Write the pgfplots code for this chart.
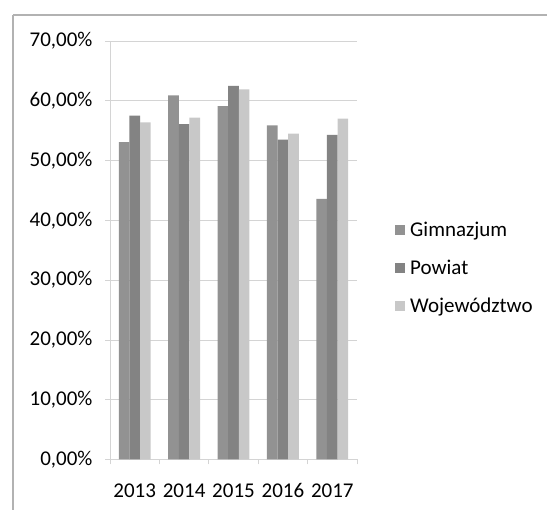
\documentclass[border=0pt]{standalone}
\usepackage{fontspec}
\setmainfont{Carlito}
\usepackage{pgfplots}
\pgfplotsset{compat=1.18}

\definecolor{gimn}{HTML}{929292}
\definecolor{pow}{HTML}{838383}
\definecolor{woj}{HTML}{C8C8C8}
\definecolor{gridc}{HTML}{D4D4D4}

\begin{document}
\begin{tikzpicture}[x=1pt,y=1pt]
\path[use as bounding box] (0,0) rectangle (547,510);
\draw[gray!60, line width=1.2pt] (13,495) -- (547,495);
\draw[gray!60, line width=1.2pt] (13,495) -- (13,0);
\begin{axis}[
    at={(110pt,50.5pt)}, anchor=south west,
    scale only axis,
    width=247pt, height=418.5pt,
    ybar, bar width=0.215,
    xmin=-0.5, xmax=4.5,
    ymin=0, ymax=70,
    ytick={0,10,...,70},
    xtick={0,1,2,3,4},
    xticklabels={2013,2014,2015,2016,2017},
    minor xtick={-0.5,0.5,1.5,2.5,3.5,4.5},
    major x tick style={draw=none},
    minor x tick style={draw=gridc, thick},
    ytick style={draw=gridc, thick},
    tick align=outside,
    major tick length=5pt, minor tick length=5pt,
    ymajorgrids, grid style={gridc, thick},
    axis x line*=bottom, axis y line*=left,
    axis line style={gridc, thick, -},
    every axis plot/.append style={draw=none},
    /pgf/number format/assume math mode=true,
    yticklabel={\pgfmathprintnumber[fixed,fixed zerofill,precision=2,use comma]{\tick}\%},
    tick label style={font=\fontsize{21}{25}\selectfont},
    xticklabel style={anchor=base, text height=0pt, text depth=0pt, yshift=-33pt},
    yticklabel style={xshift=-9pt},
    legend style={draw=none, at={(1.154,0.4576)}, anchor=west,
        font=\fontsize{21}{25}\selectfont, row sep=18pt,
        inner sep=0pt, cells={anchor=west}},
    legend image code/.code={\fill[#1] (0pt,-5pt) rectangle (10pt,5pt); \path (13pt,0pt);},
]
\addplot[fill=gimn, bar shift=-0.215] coordinates {(0,53.1) (1,60.9) (2,59.1) (3,55.9) (4,43.6)};
\addplot[fill=pow, bar shift=0] coordinates {(0,57.5) (1,56.1) (2,62.5) (3,53.5) (4,54.3)};
\addplot[fill=woj, bar shift=0.215] coordinates {(0,56.4) (1,57.2) (2,61.9) (3,54.5) (4,57.0)};
\legend{Gimnazjum, Powiat, Województwo}
\end{axis}
\end{tikzpicture}
\end{document}
